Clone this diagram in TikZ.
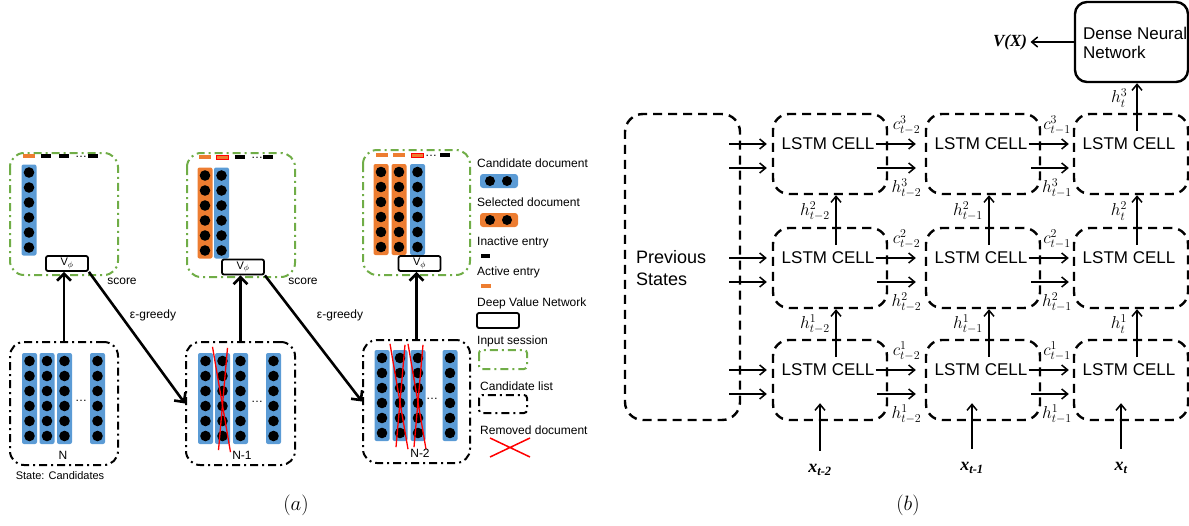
\documentclass[tikz,border=0pt]{standalone}
\usepackage{fontspec}
\setmainfont{Liberation Sans}
\newfontfamily\timesfont{Liberation Serif}
\usetikzlibrary{arrows.meta, calc}

\definecolor{docblue}{HTML}{5B9BD5}
\definecolor{docorange}{HTML}{ED7D31}
\definecolor{sessgreen}{HTML}{70AD47}

% one document: a bar with six units
\newcommand{\doccol}[4]{%
  \node[doc, fill=#4] (#1) at (#2,#3) {};
  \foreach \k in {-2.5,-1.5,-0.5,0.5,1.5,2.5}
    \fill ({#2},{#3+(\k)*15}) circle[radius=5.3pt];
}

\begin{document}
\begin{tikzpicture}[x=1pt, y=-1pt,
    every node/.style={font=\fontsize{12}{14}\selectfont},
    doc/.style={rounded corners=2pt, minimum width=15pt, minimum height=91pt, inner sep=0pt},
    session/.style={draw=sessgreen, line width=2pt, dash pattern=on 8pt off 4pt on 2pt off 4pt, rounded corners=14pt},
    candlist/.style={draw=black, line width=2pt, dash pattern=on 8pt off 4pt on 2pt off 4pt, rounded corners=14pt},
    vnet/.style={draw, line width=1.8pt, rounded corners=2pt, minimum width=42pt, minimum height=15pt, inner sep=0pt, font=\fontsize{11}{12}\selectfont},
    bigarrow/.style={line width=2.6pt, -{Straight Barb[length=7pt, width=14pt]}},
    removed/.style={draw=red, line width=1.3pt},
    entry/.style={line width=4pt},
    cell/.style={draw, line width=2.4pt, dash pattern=on 9pt off 6pt, rounded corners=16pt, minimum width=114pt, minimum height=80pt},
    celltext/.style={font=\fontsize{17}{19}\selectfont, inner sep=1pt},
    flow/.style={line width=1.5pt, -{Straight Barb[length=6pt, width=10pt]}},
    state/.style={font=\fontsize{18}{19}\selectfont, inner sep=1pt},
    inp/.style={font=\timesfont\bfseries\itshape\fontsize{18}{20}\selectfont}]
\useasboundingbox (0,0) rectangle (1189,525);

%% (a) input sessions
\draw[session] (10,153) rectangle (118,275);
\draw[session] (187,153) rectangle (295,277);
\draw[session] (363,150) rectangle (470,275);

\draw[entry, docorange] (23,156) -- (35,156);
\draw[entry] (41,156) -- (51,156);
\draw[entry] (59,156) -- (69,156);
\node[inner sep=0pt] (dots1) at (81,157) {\ldots};
\draw[entry] (88,156) -- (98,156);

\draw[entry, docorange] (199,157) -- (211,157);
\filldraw[fill=docorange, draw=red, line width=0.8pt] (216,155) rectangle (228,159);
\draw[entry] (235,157) -- (245,157);
\node[inner sep=0pt] (dots2) at (257,158) {\ldots};
\draw[entry] (263,157) -- (273,157);

\draw[entry, docorange] (376,155) -- (388,155);
\draw[entry, docorange] (393,155) -- (405,155);
\filldraw[fill=docorange, draw=red, line width=0.8pt] (411,153) rectangle (423,157);
\node[inner sep=0pt] (dots3) at (431,156) {\ldots};
\draw[entry] (440,155) -- (450,155);

\doccol{s11}{29}{210}{docblue}
\doccol{s21}{205}{213}{docorange}
\doccol{s22}{221.5}{213}{docblue}
\doccol{s31}{381}{209.5}{docorange}
\doccol{s32}{399}{209.5}{docorange}
\doccol{s33}{417.5}{209.5}{docblue}

\node[vnet] (v1) at (67,263.5) {V$_\phi$};
\node[vnet] (v2) at (243,267) {V$_\phi$};
\node[vnet] (v3) at (419.5,263.5) {V$_\phi$};

%% (a) candidate lists
\node[candlist, minimum width=108pt, minimum height=123pt] (l1) at (64,403.5) {};
\node[candlist, minimum width=109pt, minimum height=123pt] (l2) at (240.5,403.5) {};
\node[candlist, minimum width=107pt, minimum height=123pt] (l3) at (416.5,401.5) {};

\doccol{b11}{29.5}{398.5}{docblue}
\doccol{b12}{47}{398.5}{docblue}
\doccol{b13}{64.5}{398.5}{docblue}
\doccol{b14}{97.5}{398.5}{docblue}
\doccol{b21}{205.5}{398.5}{docblue}
\doccol{b22}{222.5}{398.5}{docblue}
\doccol{b23}{240.5}{398.5}{docblue}
\doccol{b24}{273.5}{398.5}{docblue}
\doccol{b31}{382}{395.5}{docblue}
\doccol{b32}{400}{395.5}{docblue}
\doccol{b33}{418}{395.5}{docblue}
\doccol{b34}{450}{395.5}{docblue}

\node[inner sep=0pt] (more1) at (81,401) {\ldots};
\node[inner sep=0pt] (more2) at (257,402) {\ldots};
\node[inner sep=0pt] (more3) at (432,399) {\ldots};

\draw[removed] ($(b22.north)+(-10,-6)$) -- ($(b22.south)+(8,8)$);
\draw[removed] ($(b22.north)+(5,-5)$) -- ($(b22.south)+(-4,6)$);
\draw[removed] ($(b32.north)+(-10,-6)$) -- ($(b32.south)+(8,8)$);
\draw[removed] ($(b32.north)+(5,-5)$) -- ($(b32.south)+(-4,6)$);
\draw[removed] ($(b33.north)+(-10,-6)$) -- ($(b33.south)+(8,8)$);
\draw[removed] ($(b33.north)+(5,-5)$) -- ($(b33.south)+(-4,6)$);

\node (n1) at (63,455) {N};
\node (n2) at (242,455) {N-1};
\node (n3) at (420,453) {N-2};
\node[font=\fontsize{11}{13}\selectfont] (state) at (60,476) {State: Candidates};

\draw[bigarrow] (l1.north) -- (l1.north |- v1.south);
\draw[bigarrow] (l2.north) -- (l2.north |- v2.south);
\draw[bigarrow] (l3.north) -- (l3.north |- v3.south);
\draw[bigarrow] (v1.south east) -- (l2.west);
\draw[bigarrow] (v2.south east) -- (l3.west);

\node (score1) at (122,281) {score};
\node (score2) at (303,281) {score};
\node (greedy1) at (153,315) {ε-greedy};
\node (greedy2) at (340,315) {ε-greedy};

%% (a) legend
\begin{scope}[every node/.append style={anchor=west, inner sep=0pt}]
    \node (lg1) at (477,163) {Candidate document};
    \node (lg2) at (477,202) {Selected document};
    \node (lg3) at (477,242) {Inactive entry};
    \node (lg4) at (477,272) {Active entry};
    \node (lg5) at (477,303) {Deep Value Network};
    \node (lg6) at (477,341) {Input session};
    \node (lg7) at (480,386) {Candidate list};
    \node (lg8) at (480,430) {Removed document};
\end{scope}
\node[doc, fill=docblue, minimum width=38pt, minimum height=14pt, rounded corners=3pt] (lgcand) at (499,181) {};
\fill (490,181) circle[radius=5pt] (507,181) circle[radius=5pt];
\node[doc, fill=docorange, minimum width=38pt, minimum height=14pt, rounded corners=3pt] (lgsel) at (499,220) {};
\fill (490,220) circle[radius=5pt] (507,220) circle[radius=5pt];
\draw[entry] (481,256) -- (490,256);
\draw[entry, docorange] (481,286) -- (491,286);
\draw[line width=1.8pt, rounded corners=2pt] (477,313) rectangle (519,328);
\draw[session, rounded corners=3pt] (479,350) rectangle (527,369);
\draw[candlist, rounded corners=3pt] (479,395) rectangle (527,413);
\draw[removed, line width=1.5pt] (490,438) -- (530,457) (490,457) -- (530,438);

\node[font=\fontsize{22}{24}\selectfont] (capa) at (296,505) {$(a)$};

%% (b) stacked LSTM
\node[cell, minimum width=115pt, minimum height=306pt, rounded corners=18pt] (ps) at (682.5,267) {};
\node[celltext, font=\fontsize{18}{22}\selectfont, align=left, anchor=west] (pstext) at (635,268) {Previous\\States};

\node[cell] (c13) at (830,154) {};
\node[cell] (c23) at (983,154) {};
\node[cell] (c33) at (1131,154) {};
\node[cell] (c12) at (830,268) {};
\node[cell] (c22) at (983,268) {};
\node[cell] (c32) at (1131,268) {};
\node[cell] (c11) at (830,380) {};
\node[cell] (c21) at (983,380) {};
\node[cell] (c31) at (1131,380) {};

\foreach \c in {1,2,3}
  \foreach \r in {1,2,3}
    \node[celltext] (t\c\r) at ($(c\c\r)+(-2,-10)$) {LSTM CELL};

\node[draw, line width=2.4pt, rounded corners=12pt, minimum width=113pt, minimum height=80pt] (dnn) at (1131.5,42) {};
\node[celltext, align=left, anchor=west] (dnntext) at (1082,43) {Dense Neural\\Network};
\node[inp, font=\timesfont\bfseries\itshape\fontsize{17}{19}\selectfont] (vx) at (1010,42) {V(X)};
\draw[flow] (dnn.west) -- (vx.east);

\foreach \r in {1,2,3} {
    \draw[flow] ($(ps.east |- t1\r)+(-12,0)$) -- ($(c1\r.west |- t1\r)+(-5,0)$);
    \draw[flow] ($(ps.east |- c1\r)+(-12,14)$) -- ($(c1\r.west)+(-5,14)$);
    \draw[flow] (t1\r.east) -- ($(c2\r.west |- t1\r)+(-9,0)$);
    \draw[flow] ($(c1\r.east)+(-11,14)$) -- ($(c2\r.west)+(-9,14)$);
    \draw[flow] (t2\r.east) -- ($(c3\r.west |- t2\r)+(-4,0)$);
    \draw[flow] ($(c2\r.east)+(-10,14)$) -- ($(c3\r.west)+(-4,14)$);
    \node[state] (ca\r) at ($(c1\r.east)!0.5!(c2\r.west)+(0,-29)$) {$c^{\r}_{t-2}$};
    \node[state] (ha\r) at ($(c1\r.east)!0.5!(c2\r.west)+(0,34)$) {$h^{\r}_{t-2}$};
    \node[state] (cb\r) at ($(c2\r.east)!0.5!(c3\r.west)+(0,-29)$) {$c^{\r}_{t-1}$};
    \node[state] (hb\r) at ($(c2\r.east)!0.5!(c3\r.west)+(0,34)$) {$h^{\r}_{t-1}$};
}

% upward hidden states
\draw[flow] ($(c11)+(6,-23)$) -- ($(c12.south)+(6,0)$);
\draw[flow] ($(c12)+(6,-23)$) -- ($(c13.south)+(6,0)$);
\draw[flow] ($(c21)+(6,-23)$) -- ($(c22.south)+(6,0)$);
\draw[flow] ($(c22)+(6,-23)$) -- ($(c23.south)+(6,0)$);
\draw[flow] ($(c31)+(6,-23)$) -- ($(c32.south)+(6,0)$);
\draw[flow] ($(c32)+(6,-23)$) -- ($(c33.south)+(6,0)$);
\draw[flow] ($(c33)+(6,-23)$) -- ($(c33.north |- dnn.south)+(6,0)$);

\node[state] (hu11) at ($(c11.north)!0.5!(c12.south)+(-15,0)$) {$h^{1}_{t-2}$};
\node[state] (hu12) at ($(c12.north)!0.5!(c13.south)+(-15,0)$) {$h^{2}_{t-2}$};
\node[state] (hu21) at ($(c21.north)!0.5!(c22.south)+(-15,0)$) {$h^{1}_{t-1}$};
\node[state] (hu22) at ($(c22.north)!0.5!(c23.south)+(-15,0)$) {$h^{2}_{t-1}$};
\node[state] (hu31) at ($(c31.north)!0.5!(c32.south)+(-12,0)$) {$h^{1}_{t}$};
\node[state] (hu32) at ($(c32.north)!0.5!(c33.south)+(-12,0)$) {$h^{2}_{t}$};
\node[state] (hu33) at ($(c33.north)!0.5!(dnn.south)+(-12,0)$) {$h^{3}_{t}$};

% inputs
\node[inp] (xin1) at (820,470) {x\textsubscript{t-2}};
\node[inp] (xin2) at (972,468) {x\textsubscript{t-1}};
\node[inp] (xin3) at (1121,468) {x\textsubscript{t}};
\draw[flow, shorten <=10pt] (xin1.north) -- ($(xin1.north |- c11.south)+(0,-18)$);
\draw[flow, shorten <=10pt] (xin2.north) -- ($(xin2.north |- c21.south)+(0,-18)$);
\draw[flow, shorten <=10pt] (xin3.north) -- ($(xin3.north |- c31.south)+(0,-18)$);

\node[font=\fontsize{22}{24}\selectfont] (capb) at (908,505) {$(b)$};
\end{tikzpicture}
\end{document}
